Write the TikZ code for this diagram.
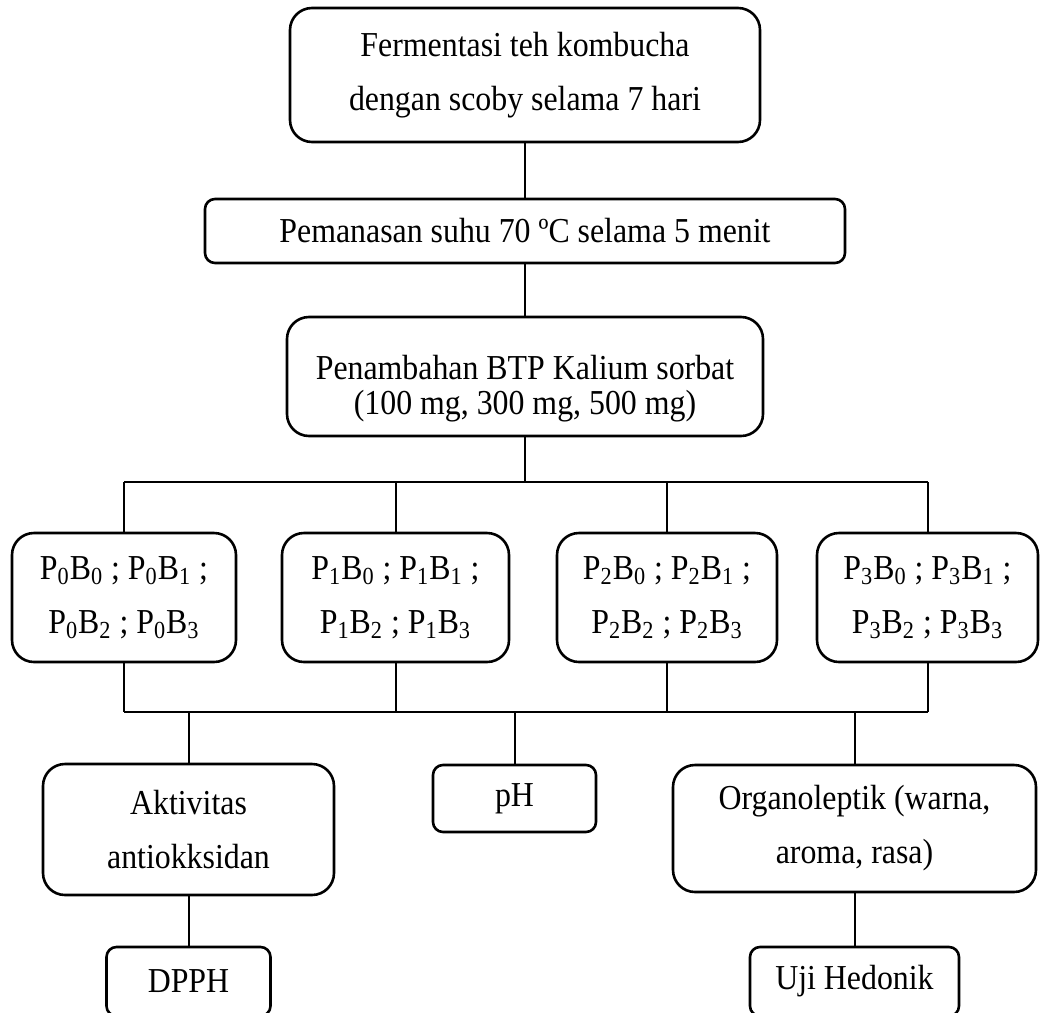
\documentclass[tikz,border=0pt]{standalone}
\usepackage{fontspec}
\setmainfont{Liberation Serif}[FakeStretch=0.91]
\usetikzlibrary{positioning, calc}
\newcommand{\pbset}[1]{P\textsubscript{#1}B\textsubscript{0} ; P\textsubscript{#1}B\textsubscript{1} ;\\
  P\textsubscript{#1}B\textsubscript{2} ; P\textsubscript{#1}B\textsubscript{3}}

\begin{document}
\begin{tikzpicture}[x=0.5pt, y=-0.5pt,
  box/.style={draw, line width=1.3pt, rounded corners=11pt, align=center, inner sep=0pt,
    font=\fontsize{17.5}{27}\selectfont},
  flat/.style={box, rounded corners=5pt},
  link/.style={line width=1pt}]
  \useasboundingbox (0,0) rectangle (1043,1012);
  \fill[white] (0,0) rectangle (1043,1012);
  % alur utama
  \node[box, minimum width=235pt, minimum height=67pt] (ferm) at (525,75)
    {Fermentasi teh kombucha\\dengan scoby selama 7 hari};
  \node[flat, minimum width=320pt, minimum height=32pt] (panas) at (525,231)
    {Pemanasan suhu 70 ºC selama 5 menit};
  \node[box, minimum width=238pt, minimum height=59.5pt, font=\fontsize{17.5}{17.5}\selectfont] (btp) at (525,376.5)
    {\rule{0pt}{24pt}Penambahan BTP Kalium sorbat\\(100 mg, 300 mg, 500 mg)};
  \draw[link] (ferm.south) -- (panas.north);
  \draw[link] (panas.south) -- (btp.north);
  % perlakuan
  \foreach \i/\x/\w in {0/124/112, 1/395.5/113.5, 2/667/110, 3/927.5/110.5}{
    \node[box, minimum width=\w pt, minimum height=64.5pt] (P\i) at (\x,597.5) {\pbset{\i}};}
  \coordinate (busA) at (525,482);
  \coordinate (busB) at (525,712);
  \draw[link] (btp.south) -- (busA);
  \draw[link] (P0.north |- busA) -- (P3.north |- busA);
  \draw[link] (P0.south |- busB) -- (P3.south |- busB);
  \foreach \i in {0,...,3}{
    \draw[link] (P\i.north |- busA) -- (P\i.north);
    \draw[link] (P\i.south) -- (P\i.south |- busB);}
  % pengujian
  \node[box, minimum width=145.5pt, minimum height=65.5pt] (akt) at (188.5,829.5) {Aktivitas\\antiokksidan};
  \node[flat, minimum width=81.5pt, minimum height=33.5pt] (ph) at (514.5,798.5) {pH};
  \node[box, minimum width=181.5pt, minimum height=63.5pt] (org) at (854.5,828.5) {Organoleptik (warna,\\aroma, rasa)};
  \node[flat, minimum width=82pt, minimum height=34.5pt] (dpph) at (188.5,981.5) {DPPH};
  \node[flat, minimum width=104.5pt, minimum height=34.5pt] (uji) at (854.5,981.5) {Uji Hedonik};
  \foreach \n in {akt,ph,org}{\draw[link] (\n.north |- busB) -- (\n.north);}
  \draw[link] (akt.south) -- (dpph.north);
  \draw[link] (org.south) -- (uji.north);
\end{tikzpicture}
\end{document}
